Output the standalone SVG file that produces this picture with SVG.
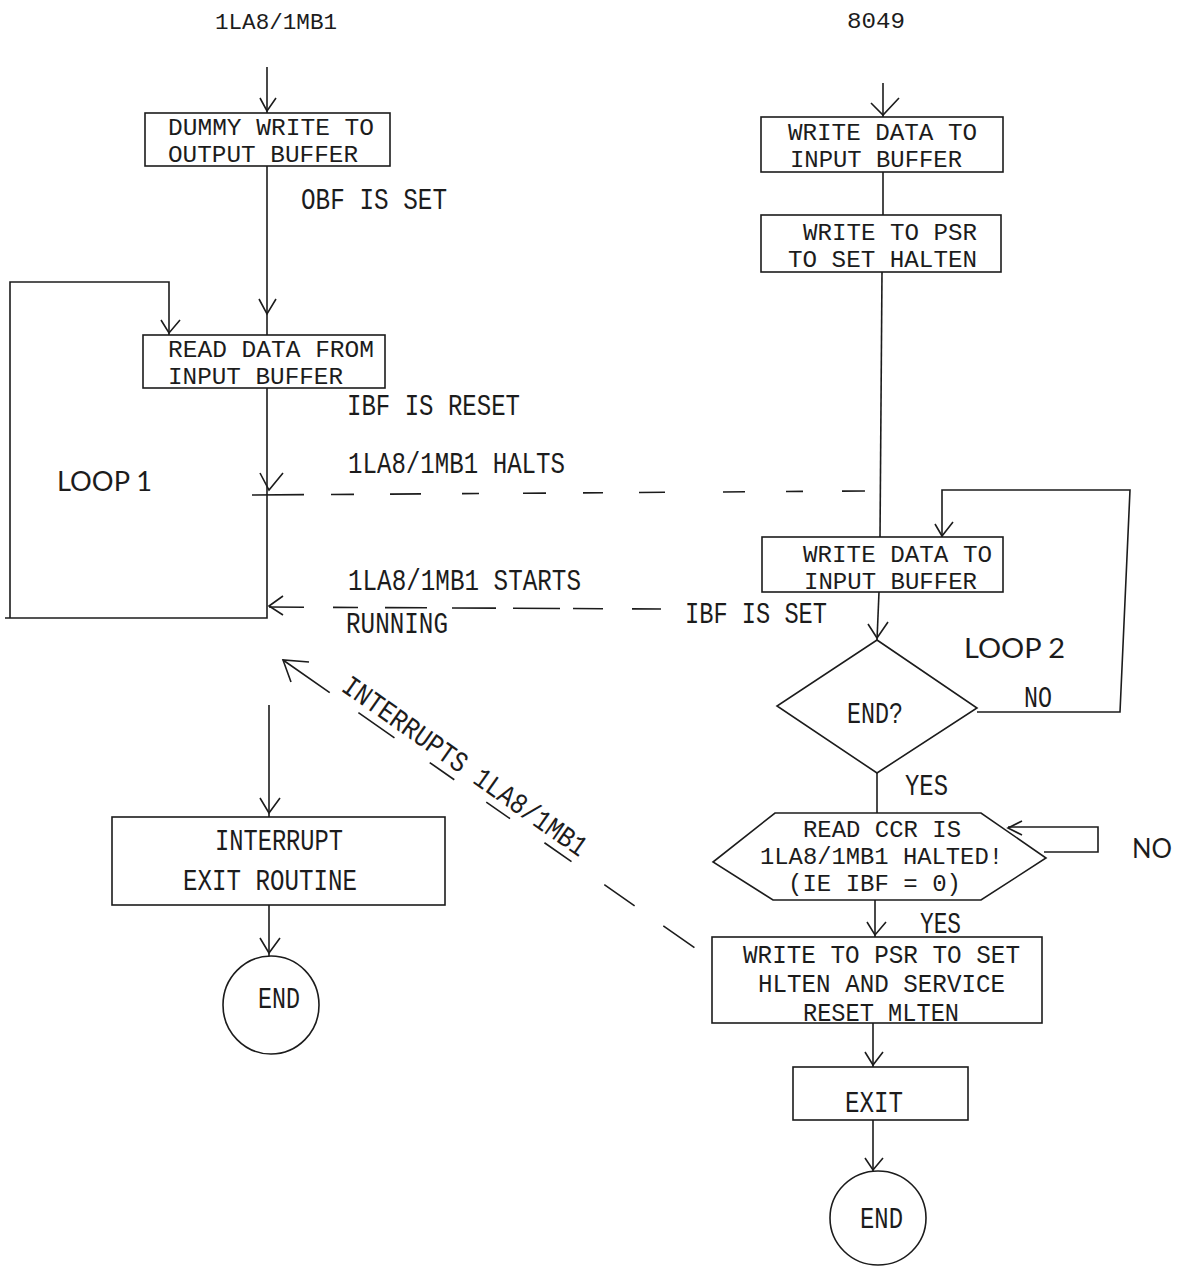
<svg xmlns="http://www.w3.org/2000/svg" width="1180" height="1268" viewBox="0 0 1180 1268">
<style>
.s{fill:none;stroke:#1c1c1c;stroke-width:1.6;stroke-linejoin:miter}
.box{fill:#fff;stroke:#1c1c1c;stroke-width:1.6}
.t{font-family:"Liberation Mono","DejaVu Sans Mono",monospace;font-size:29px;fill:#1c1c1c}
.m{font-family:"Liberation Mono","DejaVu Sans Mono",monospace;font-size:24px;fill:#1c1c1c}
.p{font-family:"Liberation Mono","DejaVu Sans Mono",monospace;font-size:26px;fill:#1c1c1c}
.h{font-family:"Liberation Mono","DejaVu Sans Mono",monospace;font-size:22px;fill:#1c1c1c}
.g{font-family:Lato,"Liberation Sans",sans-serif;font-size:26px;fill:#1c1c1c}
</style>
<rect width="1180" height="1268" fill="#fff"/>

<g id="connectors">
  <!-- left column -->
  <path class="s" d="M267,67 V113"/>
  <path class="s" d="M260,98 L267,111 L276,98"/>
  <path class="s" d="M267,166 V335"/>
  <path class="s" d="M259,299 L267,314 L276,299"/>
  <path class="s" d="M267,388 V618 H5"/>
  <path class="s" d="M10,618 V282 H169 V335"/>
  <path class="s" d="M161,320 L169,333 L180,320"/>
  <path class="s" d="M260,473 L269,490 L283,473"/>
  <path class="s" d="M252,495 L866,491" stroke-dasharray="52 27 23 36 31 41 17 44 23 37 20 36 26 58 22 41 17 39 23"/>
  <path class="s" d="M269,607 L661,609" stroke-dasharray="35 29 25 27 42 25 44 17 47 13 30 29 29"/>
  <path class="s" d="M283,596 L269,606 L283,615"/>
  <path class="s" d="M283,660 L695,948" stroke-dasharray="57 35 44 43 30 39 29 42 33 40 37 35 38"/>
  <path class="s" d="M309,662 L283,660 L291,682"/>
  <path class="s" d="M269,705 V817"/>
  <path class="s" d="M260,798 L269,813 L280,798"/>
  <path class="s" d="M269,905 V957"/>
  <path class="s" d="M260,938 L269,953 L280,938"/>
  <!-- right column -->
  <path class="s" d="M883,83 V117"/>
  <path class="s" d="M871,103 L883,115 L899,98"/>
  <path class="s" d="M883,172 V215"/>
  <path class="s" d="M882,272 L880,537"/>
  <path class="s" d="M942,537 V490 H1130 L1120,712 H977"/>
  <path class="s" d="M935,524 L942,536 L953,522"/>
  <path class="s" d="M879,592 L877,640"/>
  <path class="s" d="M868,624 L877,638 L888,622"/>
  <path class="s" d="M877,773 V813"/>
  <path class="s" d="M1044,852 H1098 V827 H1008"/>
  <path class="s" d="M1022,821 L1008,828 L1022,835"/>
  <path class="s" d="M875,900 V937"/>
  <path class="s" d="M867,922 L875,935 L886,922"/>
  <path class="s" d="M873,1023 V1067"/>
  <path class="s" d="M865,1052 L873,1065 L883,1052"/>
  <path class="s" d="M873,1120 V1172"/>
  <path class="s" d="M865,1158 L873,1170 L883,1158"/>
</g>

<g id="title-left"><text class="h" x="215" y="29" textLength="122" lengthAdjust="spacingAndGlyphs">1LA8/1MB1</text></g>
<g id="title-right"><text class="h" x="847" y="28" textLength="58" lengthAdjust="spacingAndGlyphs">8049</text></g>

<g id="dummy-write">
  <rect class="box" x="145" y="113" width="245" height="53"/>
  <text class="m" x="168" y="135" textLength="206" lengthAdjust="spacingAndGlyphs">DUMMY WRITE TO</text>
  <text class="m" x="168" y="162" textLength="190" lengthAdjust="spacingAndGlyphs">OUTPUT BUFFER</text>
</g>
<g id="lbl-obf"><text class="t" x="301" y="209" textLength="146" lengthAdjust="spacingAndGlyphs">OBF IS SET</text></g>

<g id="read-data">
  <rect class="box" x="143" y="335" width="242" height="53"/>
  <text class="m" x="168" y="357" textLength="206" lengthAdjust="spacingAndGlyphs">READ DATA FROM</text>
  <text class="m" x="168" y="384" textLength="175" lengthAdjust="spacingAndGlyphs">INPUT BUFFER</text>
</g>
<g id="lbl-ibf-reset"><text class="t" x="347" y="415" textLength="173" lengthAdjust="spacingAndGlyphs">IBF IS RESET</text></g>
<g id="lbl-halts"><text class="t" x="348" y="473" textLength="217" lengthAdjust="spacingAndGlyphs">1LA8/1MB1 HALTS</text></g>
<g id="lbl-loop1"><text class="g" x="57" y="491" textLength="95" lengthAdjust="spacingAndGlyphs">LOOP 1</text></g>
<g id="lbl-starts">
  <text class="t" x="348" y="590" textLength="233" lengthAdjust="spacingAndGlyphs">1LA8/1MB1 STARTS</text>
  <text class="t" x="346" y="633" textLength="102" lengthAdjust="spacingAndGlyphs">RUNNING</text>
</g>
<g id="lbl-ibf-set"><text class="t" x="685" y="623" textLength="142" lengthAdjust="spacingAndGlyphs">IBF IS SET</text></g>
<g id="lbl-interrupts"><text class="t" transform="translate(340,690) rotate(35)" x="0" y="0" textLength="292" lengthAdjust="spacingAndGlyphs">INTERRUPTS 1LA8/1MB1</text></g>

<g id="interrupt-exit">
  <rect class="box" x="112" y="817" width="333" height="88"/>
  <text class="t" x="215" y="850" textLength="128" lengthAdjust="spacingAndGlyphs">INTERRUPT</text>
  <text class="t" x="183" y="890" textLength="174" lengthAdjust="spacingAndGlyphs">EXIT ROUTINE</text>
</g>
<g id="end-left">
  <ellipse class="box" cx="271" cy="1005" rx="48" ry="49"/>
  <text class="t" x="258" y="1008" textLength="42" lengthAdjust="spacingAndGlyphs">END</text>
</g>

<g id="write-data-1">
  <rect class="box" x="761" y="117" width="242" height="55"/>
  <text class="m" x="788" y="140" textLength="189" lengthAdjust="spacingAndGlyphs">WRITE DATA TO</text>
  <text class="m" x="790" y="167" textLength="172" lengthAdjust="spacingAndGlyphs">INPUT BUFFER</text>
</g>
<g id="write-psr-1">
  <rect class="box" x="761" y="215" width="240" height="57"/>
  <text class="m" x="803" y="240" textLength="174" lengthAdjust="spacingAndGlyphs">WRITE TO PSR</text>
  <text class="m" x="788" y="267" textLength="189" lengthAdjust="spacingAndGlyphs">TO SET HALTEN</text>
</g>
<g id="write-data-2">
  <rect class="box" x="762" y="537" width="241" height="55"/>
  <text class="m" x="803" y="562" textLength="189" lengthAdjust="spacingAndGlyphs">WRITE DATA TO</text>
  <text class="m" x="804" y="589" textLength="173" lengthAdjust="spacingAndGlyphs">INPUT BUFFER</text>
</g>
<g id="lbl-loop2"><text class="g" x="964" y="658" textLength="101" lengthAdjust="spacingAndGlyphs">LOOP 2</text></g>
<g id="decision-end">
  <path class="box" d="M877,640 L977,708 L877,773 L777,706 Z"/>
  <text class="t" x="847" y="723" textLength="56" lengthAdjust="spacingAndGlyphs">END?</text>
</g>
<g id="lbl-no-1"><text class="t" x="1024" y="707" textLength="28" lengthAdjust="spacingAndGlyphs">NO</text></g>
<g id="lbl-yes-1"><text class="t" x="905" y="795" textLength="43" lengthAdjust="spacingAndGlyphs">YES</text></g>
<g id="read-ccr">
  <path class="box" d="M775,813 H981 L1046,858 L981,900 H773 L713,862 Z"/>
  <text class="m" x="803" y="837" textLength="158" lengthAdjust="spacingAndGlyphs">READ CCR IS</text>
  <text class="m" x="760" y="864" textLength="243" lengthAdjust="spacingAndGlyphs">1LA8/1MB1 HALTED!</text>
  <text class="m" x="788" y="891" textLength="173" lengthAdjust="spacingAndGlyphs">(IE IBF = 0)</text>
</g>
<g id="lbl-no-2"><text class="g" x="1132" y="858" textLength="40" lengthAdjust="spacingAndGlyphs">NO</text></g>
<g id="lbl-yes-2"><text class="t" x="920" y="933" textLength="41" lengthAdjust="spacingAndGlyphs">YES</text></g>
<g id="write-psr-2">
  <rect class="box" x="712" y="937" width="330" height="86"/>
  <text class="p" x="743" y="963" textLength="277" lengthAdjust="spacingAndGlyphs">WRITE TO PSR TO SET</text>
  <text class="p" x="758" y="992" textLength="247" lengthAdjust="spacingAndGlyphs">HLTEN AND SERVICE</text>
  <text class="p" x="803" y="1021" textLength="156" lengthAdjust="spacingAndGlyphs">RESET MLTEN</text>
</g>
<g id="exit">
  <rect class="box" x="793" y="1067" width="175" height="53"/>
  <text class="t" x="845" y="1112" textLength="58" lengthAdjust="spacingAndGlyphs">EXIT</text>
</g>
<g id="end-right">
  <ellipse class="box" cx="878" cy="1218" rx="48" ry="47"/>
  <text class="t" x="860" y="1228" textLength="43" lengthAdjust="spacingAndGlyphs">END</text>
</g>
</svg>
